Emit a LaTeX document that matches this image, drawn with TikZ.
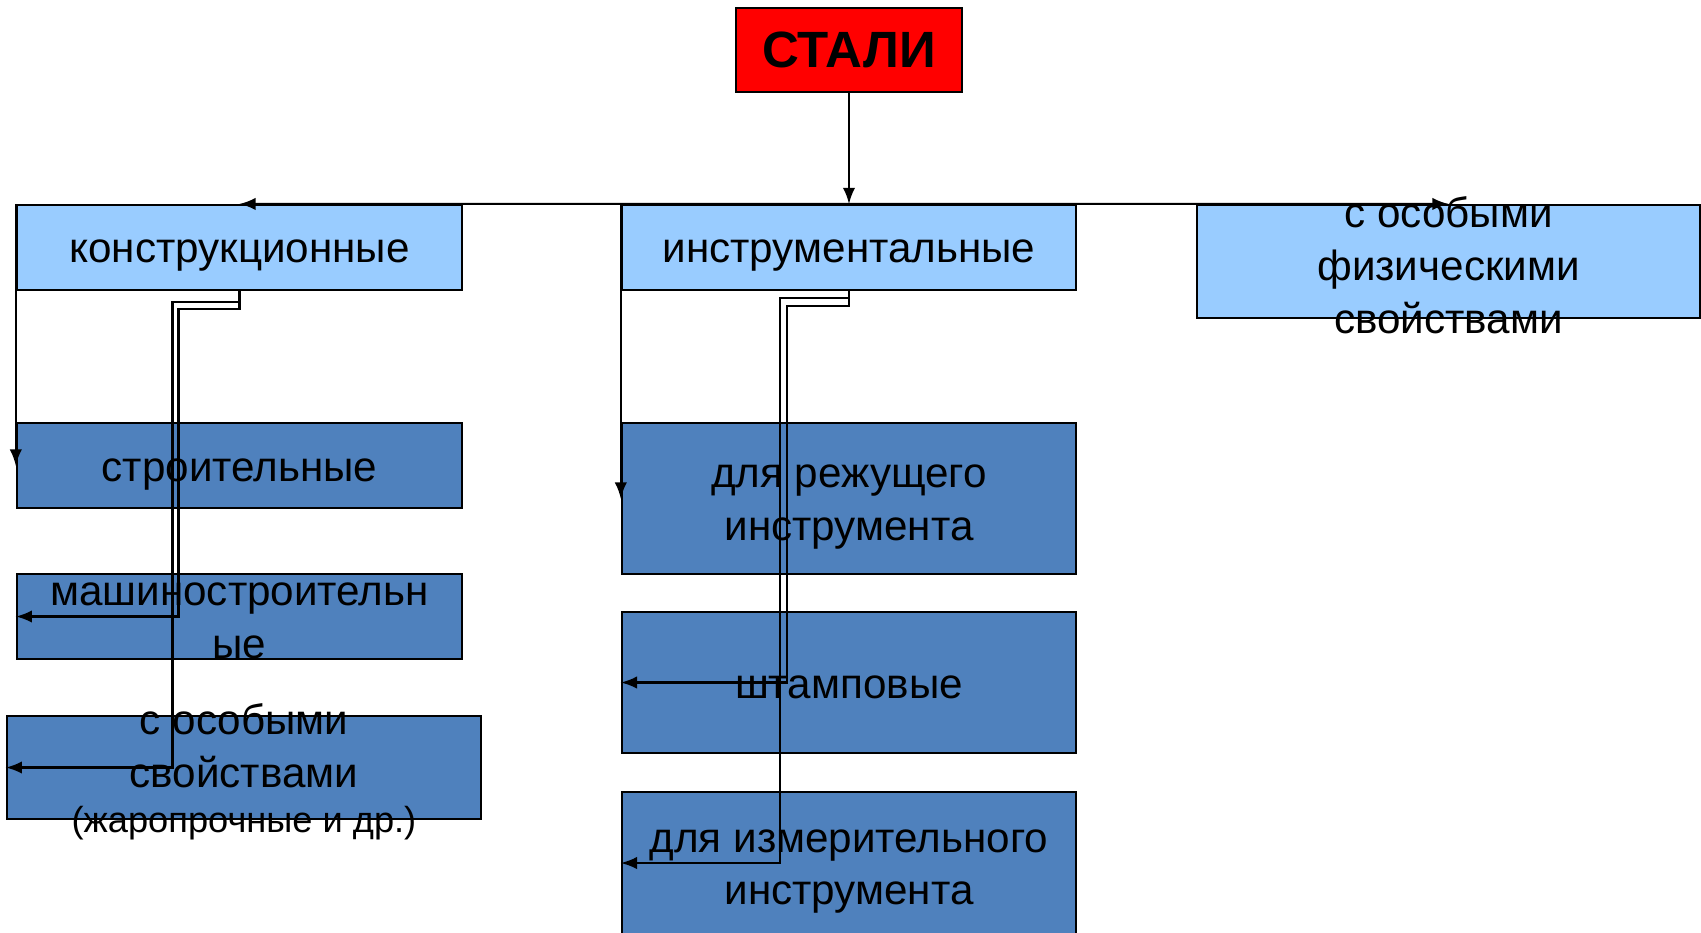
\documentclass[tikz,border=0pt]{standalone}
\usepackage{fontspec}
\setmainfont{Liberation Sans}
\definecolor{lightblue}{HTML}{99CCFF}
\definecolor{steelblue}{HTML}{4F81BD}
\tikzset{head/.style = {draw, fill=red, line width=0.6pt, rectangle, inner sep=0pt},
         group/.style = {draw, fill=lightblue, line width=0.6pt, rectangle, inner sep=0pt},
         kind/.style = {draw, fill=steelblue, line width=0.6pt, rectangle, inner sep=0pt},
         txt/.style = {align=center, inner sep=0pt, yshift=-0.085cm, font=\fontsize{12}{15}\selectfont},
         link/.style = {line width=0.6pt, ->, >=latex}}

\begin{document}
\begin{tikzpicture}[x=0.01cm,y=-0.01cm]
    \clip(0,0)rectangle(1701,932);
    \fill[white](0,0)rectangle(1701,932);
    \node[head,minimum width=2.26cm,minimum height=0.84cm](stali)at(849,50){\fontsize{14.5}{17}\selectfont\bfseries СТАЛИ};
    % first level
    \node[group,minimum width=4.45cm,minimum height=0.85cm,label={[txt]center:конструкционные}](konstr)at(239.5,247.5){};
    \node[group,minimum width=4.54cm,minimum height=0.85cm,label={[txt]center:инструментальные}](instr)at(849,247.5){};
    \node[group,minimum width=5.03cm,minimum height=1.13cm,label={[txt,yshift=0.05cm]center:{с особыми\\физическими\\свойствами}}](phys)at(1448.5,261.5){};
    % constructional steels
    \node[kind,minimum width=4.45cm,minimum height=0.85cm,label={[txt]center:строительные}](stroit)at(239.5,465.5){};
    \node[kind,minimum width=4.45cm,minimum height=0.85cm,label={[txt,yshift=0.04cm]center:{машиностроительн\\ые}}](mash)at(239.5,616.5){};
    \node[kind,minimum width=4.74cm,minimum height=1.03cm,label={[txt,yshift=0.04cm]center:{с особыми\\свойствами\\[-0.07cm]{\fontsize{10.3}{12}\selectfont(жаропрочные и др.)}}}](osob)at(244,767.5){};
    % tool steels
    \node[kind,minimum width=4.54cm,minimum height=1.51cm,label={[txt]center:{для режущего\\инструмента}}](rezh)at(849,498.5){};
    \node[kind,minimum width=4.54cm,minimum height=1.41cm,label={[txt,yshift=0.04cm]center:штамповые}](shtamp)at(849,682.5){};
    \node[kind,minimum width=4.54cm,minimum height=1.42cm,label={[txt]center:{для измерительного\\инструмента}}](izmer)at(849,863){};

    \draw[link](stali)--(instr);
    \draw[link,<->](konstr.north)--(phys.north);
    \draw[link](konstr.north west)--(stroit.west);
    \draw[link](instr.north west)--(rezh.west);
    \draw[link](konstr.south)--++(0,11)--++(-67,0)|-(osob.west);
    \draw[link](konstr.south)--++(0,18)--++(-61,0)|-(mash.west);
    \draw[link](instr.south)--++(0,7)--++(-69,0)|-(izmer.west);
    \draw[link](instr.south)--++(0,15)--++(-62,0)|-(shtamp.west);
\end{tikzpicture}
\end{document}
